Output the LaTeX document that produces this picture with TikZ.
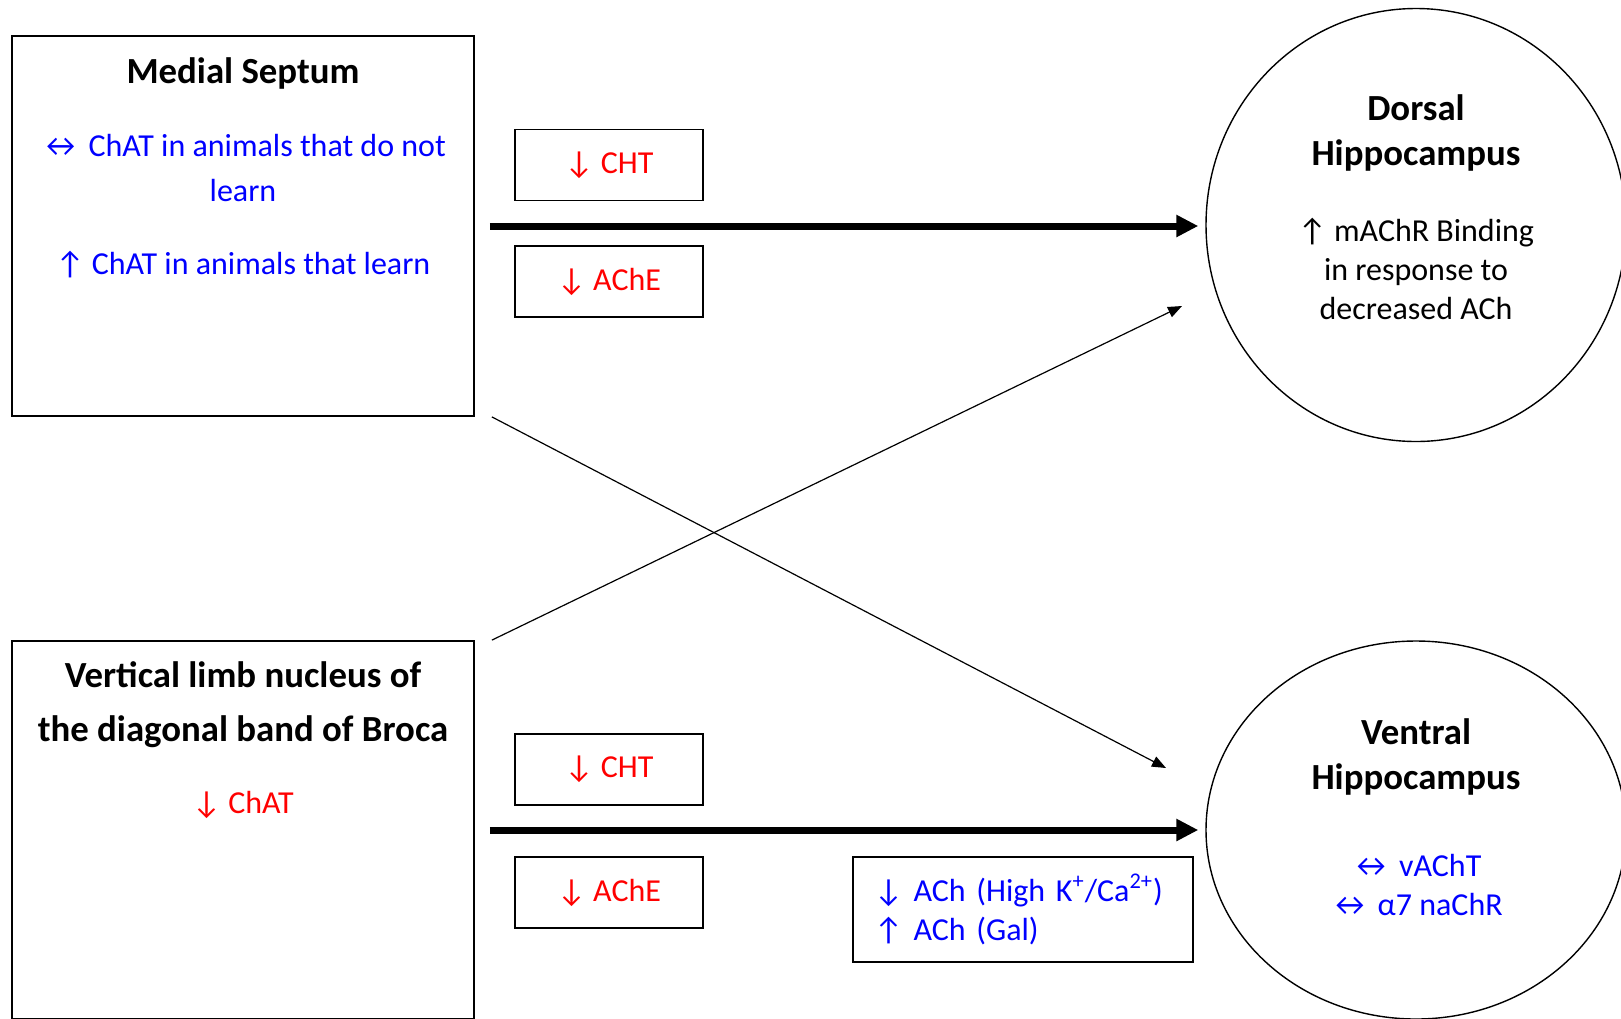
\documentclass[tikz,border=0pt]{standalone}
\usepackage{fontspec}
\setmainfont{Carlito}
\usetikzlibrary{arrows.meta,positioning,shapes.geometric}

\begin{document}
\begin{tikzpicture}[x=0.5pt, y=-0.5pt,
  region/.style={draw, line width=0.9pt, minimum width=231pt, inner sep=0pt},
  hippo/.style={draw, ellipse, line width=0.7pt, minimum width=210pt, inner sep=0pt},
  marker/.style={draw, line width=0.9pt, minimum width=94pt, minimum height=35.5pt, text=red, font=\fontsize{16}{19.5}\selectfont},
  ttl/.style={font=\fontsize{18.4}{22.75}\selectfont\bfseries, align=center, inner sep=0pt},
  txt/.style={font=\fontsize{16}{19.5}\selectfont, align=center, inner sep=0pt},
  flow/.style={-{Triangle[length=11pt, width=10.5pt]}, line width=3.5pt},
  proj/.style={-{Triangle[length=7pt, width=5.5pt]}, line width=0.6pt},
]
  \useasboundingbox (0,0) rectangle (1621,1018);
  \clip (0,0) rectangle (1621,1018);

  % Medial septum
  \node[region, minimum height=190pt] (ms) at (243,226) {};
  \node[ttl] (mstitle) at (243,73) {Medial Septum};
  \node[txt, text=blue, font=\fontsize{16}{22.5}\selectfont] (msnolearn) at (243,168) {↔ ChAT in animals that do not\\learn};
  \node[txt, text=blue] (mslearn) at (243,265) {↑ ChAT in animals that learn};

  % Vertical limb nucleus
  \node[region, minimum height=189pt] (vl) at (243,830) {};
  \node[ttl, font=\fontsize{18.4}{27}\selectfont\bfseries] (vltitle) at (243,705) {Vertical limb nucleus of\\the diagonal band of Broca};
  \node[txt, text=red] (vlchat) at (243,805) {↓ ChAT};

  % Dorsal hippocampus
  \node[hippo, minimum height=216.5pt] (dh) at (1416,225) {};
  \node[ttl] (dhtitle) at (1416,133) {Dorsal\\Hippocampus};
  \node[txt] (dhbind) at (1416,269) {↑ mAChR Binding\\in response to\\decreased ACh};

  % Ventral hippocampus
  \node[hippo, minimum height=189pt] (vh) at (1416,830) {};
  \node[ttl] (vhtitle) at (1416,757) {Ventral\\Hippocampus};
  \node[txt, text=blue] (vhrec) at (1416,884.5) {↔ vAChT\\↔ α7 naChR};

  % Markers along the pathways
  \node[marker] (dcht) at (609,165) {↓ CHT};
  \node[marker] (dache) at (609,281.5) {↓ AChE};
  \node[marker] (vcht) at (609,769.5) {↓ CHT};
  \node[marker] (vache) at (609,892.5) {↓ AChE};
  \node[draw, line width=0.9pt, minimum height=52.5pt, text width=149pt, inner xsep=10.5pt, align=left, text=blue, font=\fontsize{16}{19.5}\selectfont] (achbox) at (1023,909.5) {↓ ACh (High K\textsuperscript{+}/Ca\textsuperscript{2+})\\↑ ACh (Gal)};

  % Pathways
  \coordinate (dhin) at (1182,306);
  \coordinate (vhin) at (1166,768);
  \draw[flow, shorten <=7.5pt, shorten >=3.5pt] (ms.east) -- (ms.east -| dh.west);
  \draw[flow, shorten <=7.5pt, shorten >=3.5pt] (vl.east) -- (vl.east -| vh.west);
  \draw[proj] ([xshift=8.5pt]vl.north east) -- (dhin);
  \draw[proj] ([xshift=8.5pt]ms.south east) -- (vhin);
\end{tikzpicture}
\end{document}
